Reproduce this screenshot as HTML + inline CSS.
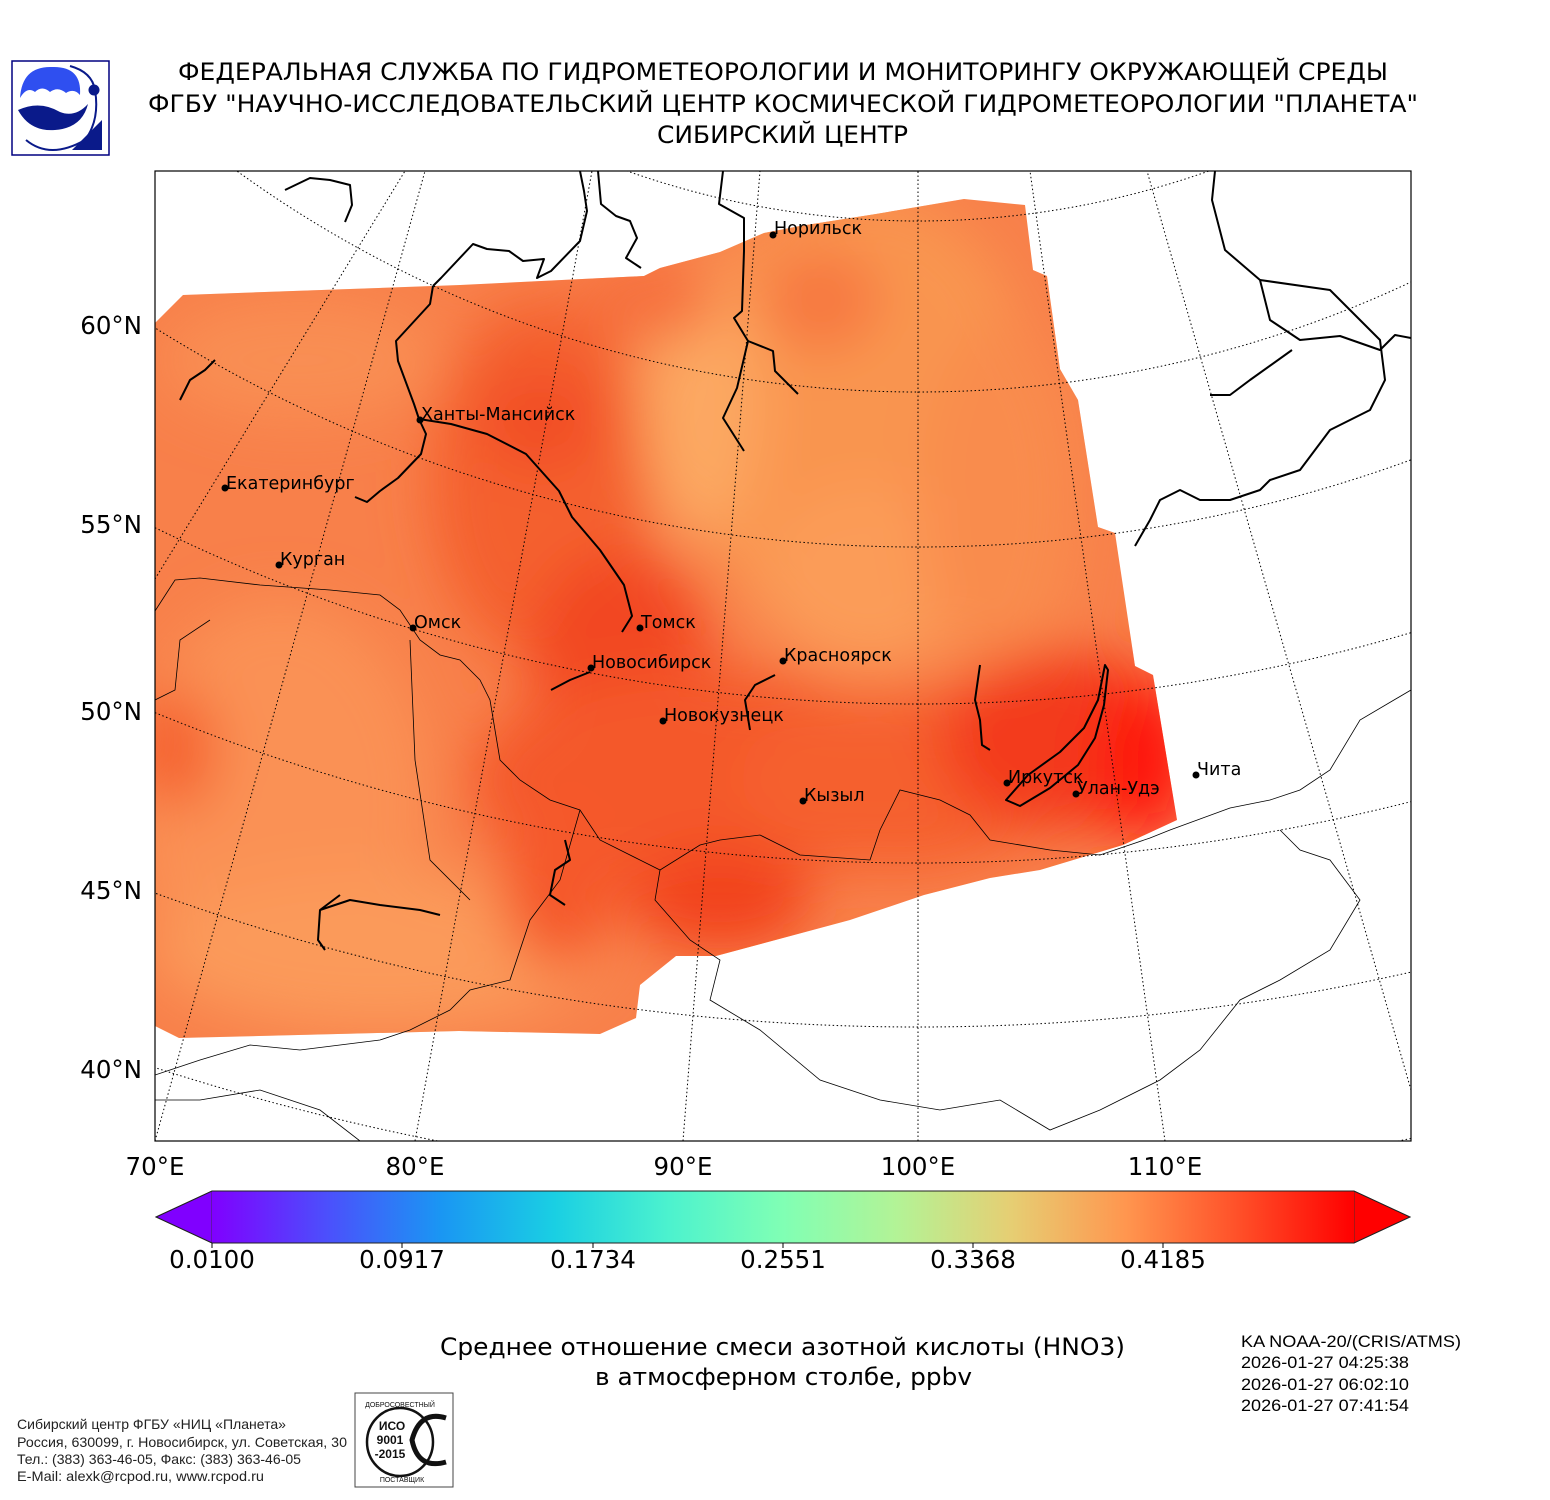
<!DOCTYPE html>
<html><head><meta charset="utf-8"><style>
body{margin:0;background:#fff;width:1550px;height:1500px;overflow:hidden;font-family:"DejaVu Sans","Liberation Sans",sans-serif;}
svg{position:absolute;left:0;top:0}
</style></head><body>
<svg width="1550" height="1500" viewBox="0 0 1550 1500" xmlns="http://www.w3.org/2000/svg">
<defs>
<clipPath id="sw"><path d="M155,323 L183,295 L460,285 L644,276 L660,268 L720,252 L764,233 L800,226 L876,214 L964,199 L1025,205 L1033,270 L1047,276 L1060,369 L1078,400 L1098,527 L1115,533 L1135,666 L1153,675 L1177,820 L1123,845 L1040,870 L990,878 L924,895 L850,920 L716,956 L676,956 L640,985 L636,1018 L600,1034 L459,1031 L179,1038 L155,1026 Z"/></clipPath>
<clipPath id="fr"><rect x="155" y="171" width="1256" height="970"/></clipPath>
<filter id="b1" x="-50%" y="-50%" width="200%" height="200%"><feGaussianBlur stdDeviation="28"/></filter>
<linearGradient id="cb" x1="212" x2="1354" y1="0" y2="0" gradientUnits="userSpaceOnUse">
<stop offset="0" stop-color="#8000ff"/><stop offset="0.1" stop-color="#4c4ffc"/><stop offset="0.2" stop-color="#1a96f3"/><stop offset="0.3" stop-color="#1acfe3"/><stop offset="0.4" stop-color="#4cf2ce"/><stop offset="0.5" stop-color="#80ffb4"/><stop offset="0.6" stop-color="#b3f396"/><stop offset="0.7" stop-color="#e6ce73"/><stop offset="0.8" stop-color="#ff964f"/><stop offset="0.9" stop-color="#ff4f28"/><stop offset="1" stop-color="#ff0000"/>
</linearGradient>
</defs>

<!-- logo -->
<rect x="12" y="61" width="97" height="94" fill="#fff" stroke="#000080" stroke-width="1.5"/>
<path d="M20,98 Q22,66 52,67 Q82,66 80,95 Q74,88 66,93 Q58,86 50,92 Q42,85 35,92 Q27,86 20,98Z" fill="#2f4ff0"/>
<path d="M18,110 Q40,100 60,112 Q75,118 88,104 Q82,128 55,130 Q30,132 18,110Z" fill="#0a1a8a"/>
<path d="M26,140 Q50,160 85,140 Q100,120 95,90" fill="none" stroke="#0a1a8a" stroke-width="2"/>
<path d="M70,66 Q92,72 95,90" fill="none" stroke="#0a1a8a" stroke-width="2"/>
<circle cx="94" cy="90" r="5.5" fill="#0a1a8a"/>
<path d="M72,150 L102,150 L102,120Z" fill="#0a1a8a"/>

<g font-family="DejaVu Sans, Liberation Sans, sans-serif" font-size="24" fill="#000">
<text x="178" y="80" textLength="1210" lengthAdjust="spacingAndGlyphs">ФЕДЕРАЛЬНАЯ СЛУЖБА ПО ГИДРОМЕТЕОРОЛОГИИ И МОНИТОРИНГУ ОКРУЖАЮЩЕЙ СРЕДЫ</text>
<text x="148" y="112" textLength="1270" lengthAdjust="spacingAndGlyphs">ФГБУ "НАУЧНО-ИССЛЕДОВАТЕЛЬСКИЙ ЦЕНТР КОСМИЧЕСКОЙ ГИДРОМЕТЕОРОЛОГИИ "ПЛАНЕТА"</text>
<text x="657" y="143" textLength="251" lengthAdjust="spacingAndGlyphs">СИБИРСКИЙ ЦЕНТР</text>
</g>

<!-- data -->
<g clip-path="url(#sw)">
<rect x="150" y="190" width="1040" height="860" fill="#f8804a"/>
<g filter="url(#b1)">
<ellipse cx="280" cy="800" rx="150" ry="200" fill="#fa9154"/>
<ellipse cx="380" cy="950" rx="230" ry="80" fill="#fb9a5a"/>
<ellipse cx="300" cy="360" rx="140" ry="60" fill="#f98e52"/>
<ellipse cx="175" cy="750" rx="40" ry="60" fill="#f5602f"/>
<ellipse cx="540" cy="480" rx="110" ry="180" fill="#f4602f"/>
<ellipse cx="540" cy="420" rx="60" ry="50" fill="#f24d25"/>
<ellipse cx="620" cy="660" rx="90" ry="110" fill="#f24722"/>
<ellipse cx="700" cy="780" rx="230" ry="110" fill="#f4582b"/>
<ellipse cx="900" cy="780" rx="160" ry="90" fill="#f5602f"/>
<ellipse cx="720" cy="900" rx="90" ry="50" fill="#f2421f"/>
<ellipse cx="560" cy="880" rx="60" ry="90" fill="#f5582b"/>
<ellipse cx="860" cy="420" rx="180" ry="230" fill="#f99550"/>
<ellipse cx="700" cy="400" rx="60" ry="140" fill="#fca862"/>
<ellipse cx="820" cy="300" rx="60" ry="50" fill="#f7773f"/>
<ellipse cx="870" cy="580" rx="110" ry="90" fill="#fb9c58"/>
<ellipse cx="1000" cy="500" rx="80" ry="180" fill="#f98c4d"/>
<ellipse cx="1060" cy="740" rx="120" ry="90" fill="#f33a1c"/>
<ellipse cx="1145" cy="760" rx="50" ry="80" fill="#fe1410"/>
<ellipse cx="650" cy="300" rx="70" ry="40" fill="#f6703c"/>
</g>
</g>

<!-- graticule -->
<g clip-path="url(#fr)" fill="none" stroke="#000" stroke-width="1" stroke-dasharray="1.5,2.5">
<circle cx="918" cy="-650" r="871"/>
<circle cx="918" cy="-768" r="1160"/>
<circle cx="918" cy="-891" r="1438"/>
<circle cx="918" cy="-1035" r="1739"/>
<circle cx="918" cy="-1148" r="2011"/>
<circle cx="918" cy="-1214" r="2241"/>
<circle cx="918" cy="-1290" r="2478"/>
<line x1="155" y1="1141" x2="425" y2="171"/>
<line x1="155" y1="579" x2="405" y2="171"/>
<line x1="415" y1="1141" x2="592" y2="171"/>
<line x1="683" y1="1141" x2="760" y2="171"/>
<line x1="918" y1="1141" x2="918" y2="171"/>
<line x1="1165" y1="1141" x2="1030" y2="171"/>
<line x1="1411" y1="1090" x2="1147" y2="171"/>
</g>

<!-- borders (thin) -->
<g clip-path="url(#fr)" fill="none" stroke="#000" stroke-width="0.8">
<path d="M155,611 L175,580 L200,578 L260,585 L330,590 L380,595 L400,610 L420,640 L440,655 L460,660 L480,680 L490,700 L500,760 L520,780 L550,800 L580,810 L600,840 L640,860 L660,870 L700,845 L720,840 L760,835 L800,855 L870,860 L880,830 L900,790 L940,800 L970,815 L990,840 L1050,850 L1100,855 L1150,838 L1170,830 L1230,808 L1270,800 L1300,790 L1330,770 L1360,720 L1411,690"/>
<path d="M660,870 L655,900 L690,940 L720,960 L710,1000 L760,1030 L820,1080 L880,1100 L940,1110 L1000,1100 L1050,1130 L1100,1110 L1160,1080 L1200,1050 L1240,1000 L1280,980 L1330,950 L1360,900 L1330,860 L1300,850 L1280,830"/>
<path d="M580,810 L560,880 L530,920 L510,980 L470,990 L450,1010 L410,1030 L380,1040 L300,1050 L250,1045 L200,1060 L170,1070 L155,1075"/>
<path d="M410,640 L415,760 L430,860 L470,900"/>
<path d="M155,1100 L200,1100 L260,1090 L320,1110 L360,1141"/>
<path d="M155,700 L175,690 L180,640 L210,620"/>
</g>

<!-- rivers / coast (thick) -->
<g clip-path="url(#fr)" fill="none" stroke="#000" stroke-width="2" stroke-linejoin="round">
<path d="M433,286 L430,304 L396,341 L398,361 L414,404 L419,419 L426,434 L421,454 L398,478 L380,491 L367,502 L355,497"/>
<path d="M419,419 L451,424 L487,434 L526,454 L559,491 L572,517 L600,550 L624,585 L632,616 L622,632"/>
<path d="M433,286 L441,278 L473,244 L487,249 L509,251 L523,261 L544,259 L537,278 L551,271 L580,241 L587,211 L584,191 L580,171"/>
<path d="M598,171 L601,204 L616,216 L630,221 L637,238 L626,258 L641,268"/>
<path d="M723,171 L719,204 L744,218 L744,251 L742,311 L734,318 L748,341 L737,388 L723,418 L744,451"/>
<path d="M748,341 L773,351 L775,371 L798,394"/>
<path d="M285,190 L310,178 L330,180 L350,185 L352,205 L345,222"/>
<path d="M1215,171 L1212,200 L1225,250 L1260,280 L1270,320 L1300,340 L1340,336 L1380,350 L1395,335 L1411,338"/>
<path d="M1260,280 L1330,290 L1380,340 L1385,380 L1370,410 L1330,430 L1300,470 L1270,480 L1260,490 L1230,500 L1200,500 L1180,490 L1160,500 L1150,520 L1135,546"/>
<path d="M1292,350 L1250,380 L1230,395 L1210,395"/>
<path d="M1105,665 L1098,700 L1084,728 L1060,752 L1028,775 L1006,800 L1020,806 L1050,788 L1078,765 L1095,738 L1104,705 L1108,670Z"/>
<path d="M980,665 L975,700 L980,720 L982,745 L990,750"/>
<path d="M551,690 L570,680 L590,672"/>
<path d="M775,675 L755,685 L745,700 L750,730"/>
<path d="M340,895 L320,910 L318,940 L325,950 M320,910 L350,900 L380,905 L420,910 L440,915"/>
<path d="M565,840 L570,860 L555,870 L550,895 L565,905"/>
<path d="M180,400 L190,380 L205,370 L215,360"/>
</g>

<!-- frame -->
<rect x="155" y="171" width="1256" height="970" fill="none" stroke="#000" stroke-width="1.2"/>

<!-- cities -->
<g font-size="17.5" fill="#000">
<circle cx="773" cy="235" r="3.5"/><text x="774" y="234">Норильск</text>
<circle cx="420" cy="420" r="3.5"/><text x="421" y="420">Ханты-Мансийск</text>
<circle cx="225" cy="488" r="3.5"/><text x="226" y="489">Екатеринбург</text>
<circle cx="279" cy="565" r="3.5"/><text x="280" y="565">Курган</text>
<circle cx="413" cy="628" r="3.5"/><text x="414" y="628">Омск</text>
<circle cx="640" cy="628" r="3.5"/><text x="641" y="628">Томск</text>
<circle cx="591" cy="668" r="3.5"/><text x="592" y="668">Новосибирск</text>
<circle cx="783" cy="661" r="3.5"/><text x="784" y="661">Красноярск</text>
<circle cx="663" cy="721" r="3.5"/><text x="664" y="721">Новокузнецк</text>
<circle cx="803" cy="801" r="3.5"/><text x="804" y="801">Кызыл</text>
<circle cx="1007" cy="783" r="3.5"/><text x="1008" y="783">Иркутск</text>
<circle cx="1076" cy="794" r="3.5"/><text x="1077" y="794">Улан-Удэ</text>
<circle cx="1196" cy="775" r="3.5"/><text x="1197" y="775">Чита</text>
</g>

<!-- axis labels -->
<g font-size="24.5" fill="#000" text-anchor="end">
<text x="142" y="334">60°N</text>
<text x="142" y="533">55°N</text>
<text x="142" y="720">50°N</text>
<text x="142" y="899">45°N</text>
<text x="142" y="1078">40°N</text>
</g>
<g font-size="24.5" fill="#000" text-anchor="middle">
<text x="155" y="1175">70°E</text>
<text x="415" y="1175">80°E</text>
<text x="683" y="1175">90°E</text>
<text x="918" y="1175">100°E</text>
<text x="1165" y="1175">110°E</text>
</g>

<!-- colorbar -->
<polygon points="156,1217 212,1191 212,1243" fill="#8000ff" stroke="#333" stroke-width="0.8"/>
<polygon points="1410,1217 1354,1191 1354,1243" fill="#ff0000" stroke="#333" stroke-width="0.8"/>
<rect x="212" y="1191" width="1142" height="52" fill="url(#cb)"/>
<path d="M156,1217 L212,1191 L1354,1191 L1410,1217 L1354,1243 L212,1243 Z" fill="none" stroke="#222" stroke-width="1"/>
<g stroke="#000"><line x1="212" y1="1243" x2="212" y2="1248"/><line x1="402" y1="1243" x2="402" y2="1248"/><line x1="593" y1="1243" x2="593" y2="1248"/><line x1="783" y1="1243" x2="783" y2="1248"/><line x1="973" y1="1243" x2="973" y2="1248"/><line x1="1163" y1="1243" x2="1163" y2="1248"/></g>
<g font-size="24.5" fill="#000" text-anchor="middle">
<text x="212" y="1268">0.0100</text><text x="402" y="1268">0.0917</text><text x="593" y="1268">0.1734</text><text x="783" y="1268">0.2551</text><text x="973" y="1268">0.3368</text><text x="1163" y="1268">0.4185</text>
</g>

<g font-size="24" fill="#000">
<text x="440" y="1355" textLength="685" lengthAdjust="spacingAndGlyphs">Среднее отношение смеси азотной кислоты (HNO3)</text>
<text x="595" y="1385" textLength="377" lengthAdjust="spacingAndGlyphs">в атмосферном столбе, ppbv</text>
</g>
<g font-family="Liberation Sans, sans-serif" font-size="17" fill="#000">
<text x="1241" y="1347" textLength="220" lengthAdjust="spacingAndGlyphs">KA NOAA-20/(CRIS/ATMS)</text>
<text x="1241" y="1368" textLength="168" lengthAdjust="spacingAndGlyphs">2026-01-27 04:25:38</text>
<text x="1241" y="1390" textLength="168" lengthAdjust="spacingAndGlyphs">2026-01-27 06:02:10</text>
<text x="1241" y="1411" textLength="168" lengthAdjust="spacingAndGlyphs">2026-01-27 07:41:54</text>
</g>
<g font-family="Liberation Sans, sans-serif" font-size="14" fill="#222">
<text x="17" y="1429" textLength="269" lengthAdjust="spacingAndGlyphs">Сибирский центр ФГБУ «НИЦ «Планета»</text>
<text x="17" y="1447" textLength="330" lengthAdjust="spacingAndGlyphs">Россия, 630099, г. Новосибирск, ул. Советская, 30</text>
<text x="17" y="1464" textLength="284" lengthAdjust="spacingAndGlyphs">Тел.: (383) 363-46-05, Факс: (383) 363-46-05</text>
<text x="17" y="1481" textLength="247" lengthAdjust="spacingAndGlyphs">E-Mail: alexk@rcpod.ru, www.rcpod.ru</text>
</g>
<!-- ISO -->
<rect x="355" y="1393" width="98" height="94" fill="#fff" stroke="#444" stroke-width="1"/>
<ellipse cx="400" cy="1442" rx="33" ry="34" fill="none" stroke="#111" stroke-width="2.5"/>
<path d="M446,1418 Q420,1410 412,1440 Q418,1470 446,1462" fill="none" stroke="#111" stroke-width="5"/>
<g font-family="Liberation Sans, sans-serif" font-weight="bold" font-size="12" text-anchor="middle" fill="#111">
<text x="392" y="1430">ИСО</text><text x="390" y="1444">9001</text><text x="390" y="1458">-2015</text>
</g>
<text x="400" y="1407" font-family="Liberation Sans, sans-serif" font-size="7" text-anchor="middle" fill="#111">ДОБРОСОВЕСТНЫЙ</text>
<text x="402" y="1482" font-family="Liberation Sans, sans-serif" font-size="7" text-anchor="middle" fill="#111">ПОСТАВЩИК</text>
</svg>
</body></html>
